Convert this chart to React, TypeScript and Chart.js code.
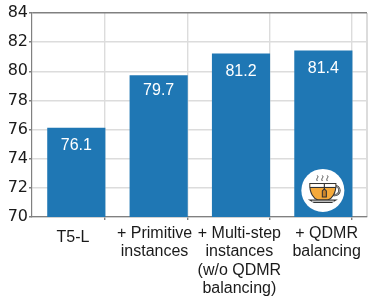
import React, { useEffect, useRef } from "react";
import { Chart, registerables } from "chart.js";

Chart.register(...registerables);

const categories: (string | string[])[] = [
  "T5-L",
  ["+ Primitive", "instances"],
  ["+ Multi-step", "instances", "(w/o QDMR", "balancing)"],
  ["+ QDMR", "balancing"],
];
const scores = [76.1, 79.7, 81.2, 81.4];
const scoreLabels = ["76.1", "79.7", "81.2", "81.4"];
const scoreLabelLevels = [74.9, 78.7, 79.95, 80.2];
const positions = [0, 1, 2, 3];
const labelCentres = [-0.04, 0.95, 1.98, 3.04];
const gridLines = [0.349, 1.349, 2.349, 3.349, 3.53];
const yTicks = [70, 72, 74, 76, 78, 80, 82, 84];

const BLUE = "#1f77b4";
const GRID = "#dcdcdc";
const AXIS = "#808080";

const valueLabels = {
  id: "valueLabels",
  afterDatasetsDraw(chart: any) {
    const { ctx, scales } = chart;
    ctx.save();
    ctx.fillStyle = "#ffffff";
    ctx.font = '16px "Liberation Sans"';
    ctx.textAlign = "center";
    ctx.textBaseline = "middle";
    scores.forEach((_, i) => {
      ctx.fillText(scoreLabels[i], scales.x.getPixelForValue(positions[i]), scales.y.getPixelForValue(scoreLabelLevels[i]));
    });
    ctx.restore();
  },
};

const teacup = {
  id: "teacup",
  afterDatasetsDraw(chart: any) {
    const { ctx, scales } = chart;
    const cx = scales.x.getPixelForValue(3) - 0.5;
    const cy = scales.y.getPixelForValue(71.82);
    ctx.save();
    ctx.translate(cx, cy);
    ctx.fillStyle = "#ffffff";
    ctx.beginPath();
    ctx.arc(0, 0, 21.5, 0, Math.PI * 2);
    ctx.fill();
    // handle
    ctx.strokeStyle = "#333333";
    ctx.lineWidth = 2.4;
    ctx.beginPath();
    ctx.arc(12, 0, 4.6, -Math.PI / 2, Math.PI * 0.6);
    ctx.stroke();
    ctx.strokeStyle = "#cfcfcf";
    ctx.lineWidth = 0.9;
    ctx.beginPath();
    ctx.arc(12, 0, 4.6, -Math.PI / 2, Math.PI * 0.6);
    ctx.stroke();
    // cup
    ctx.fillStyle = "#f5a93a";
    ctx.strokeStyle = "#333333";
    ctx.lineWidth = 1.1;
    ctx.beginPath();
    ctx.moveTo(-13, -7);
    ctx.lineTo(13, -7);
    ctx.bezierCurveTo(13.5, 3, 9, 8, 5, 9.5);
    ctx.lineTo(-5, 9.5);
    ctx.bezierCurveTo(-9, 8, -13.5, 3, -13, -7);
    ctx.closePath();
    ctx.fill();
    ctx.stroke();
    // rim band
    ctx.fillStyle = "#ffffff";
    ctx.fillRect(-12.4, -6.4, 24.8, 3.2);
    ctx.beginPath();
    ctx.moveTo(-13, -3);
    ctx.lineTo(13, -3);
    ctx.stroke();
    // tea bag string and tag
    ctx.beginPath();
    ctx.moveTo(1.5, -7);
    ctx.lineTo(1.5, -1);
    ctx.stroke();
    ctx.fillStyle = "#c9832a";
    ctx.beginPath();
    ctx.moveTo(-0.5, 0.5);
    ctx.lineTo(1.5, -1.5);
    ctx.lineTo(3.5, 0.5);
    ctx.lineTo(3.5, 6.5);
    ctx.lineTo(-0.5, 6.5);
    ctx.closePath();
    ctx.fill();
    ctx.stroke();
    // saucer
    ctx.fillStyle = "#333333";
    ctx.beginPath();
    ctx.moveTo(-15, 9);
    ctx.lineTo(15, 9);
    ctx.lineTo(9, 12.5);
    ctx.lineTo(-9, 12.5);
    ctx.closePath();
    ctx.fill();
    ctx.fillStyle = "#ffffff";
    ctx.fillRect(-11, 10.2, 22, 1);
    // steam
    ctx.strokeStyle = "#444444";
    ctx.lineWidth = 1;
    [-5.5, -0.5, 4.5].forEach((sx) => {
      ctx.beginPath();
      ctx.moveTo(sx, -15);
      ctx.bezierCurveTo(sx + 2, -13, sx - 2, -12, sx, -9.5);
      ctx.stroke();
    });
    ctx.restore();
  },
};

export default function App() {
  const ref = useRef<HTMLCanvasElement>(null);
  useEffect(() => {
    const chart = new Chart(ref.current!, {
      type: "bar",
      data: {
        datasets: [
          {
            data: scores.map((v, i) => ({ x: positions[i], y: v })),
            backgroundColor: BLUE,
            barThickness: 57.5,
          },
        ],
      },
      options: {
        animation: false,
        responsive: false,
        layout: { padding: { top: 13, right: 7, left: 0, bottom: 0 } },
        plugins: { legend: { display: false }, tooltip: { enabled: false } },
        scales: {
          x: {
            type: "linear",
            min: -0.538,
            max: 3.53,
            offset: false,
            bounds: "data",
            afterBuildTicks(axis: any) {
              axis.ticks = [...labelCentres, ...gridLines].map((value) => ({ value }));
            },
            afterFit(axis: any) {
              axis.height = 80;
            },
            border: { color: AXIS, width: 1.2 },
            grid: {
              offset: false,
              color: (c: any) => (gridLines.includes(c.tick?.value) ? GRID : "rgba(0,0,0,0)"),
              tickColor: (c: any) => (gridLines.includes(c.tick?.value) && c.tick.value !== 3.53 ? AXIS : "rgba(0,0,0,0)"),
              lineWidth: (c: any) => (c.tick?.value === 3.53 ? 2 : 1.4),
              tickLength: 3,
            },
            ticks: {
              autoSkip: false,
              maxRotation: 0,
              minRotation: 0,
              padding: 4,
              color: "#1a1a1a",
              font: (c: any) => ({
                family: '"Liberation Sans"',
                size: 16,
                lineHeight: c.tick?.value === labelCentres[0] ? 1.66 : 1.16,
              }),
              callback: (value: any) => {
                const i = labelCentres.indexOf(value);
                return i >= 0 ? categories[i] : "";
              },
            },
          },
          y: {
            min: 70,
            max: 84,
            afterBuildTicks(axis: any) {
              axis.ticks = yTicks.map((value) => ({ value }));
            },
            afterFit(axis: any) {
              axis.width = 32;
            },
            border: { color: AXIS, width: 1.2 },
            grid: {
              color: (c: any) => (c.tick?.value === 84 ? AXIS : GRID),
              tickColor: AXIS,
              lineWidth: 1.4,
              tickLength: 3,
            },
            ticks: {
              padding: 1,
              color: "#1a1a1a",
              font: { family: '"DejaVu Sans"', size: 16 },
            },
          },
        },
      },
      plugins: [valueLabels, teacup],
    } as any);
    return () => chart.destroy();
  }, []);
  return (
    <div style={{ position: "absolute", left: 0, top: 0, width: 374, height: 297 }}>
      <canvas ref={ref} width={374} height={297} style={{ display: "block" }} />
    </div>
  );
}
